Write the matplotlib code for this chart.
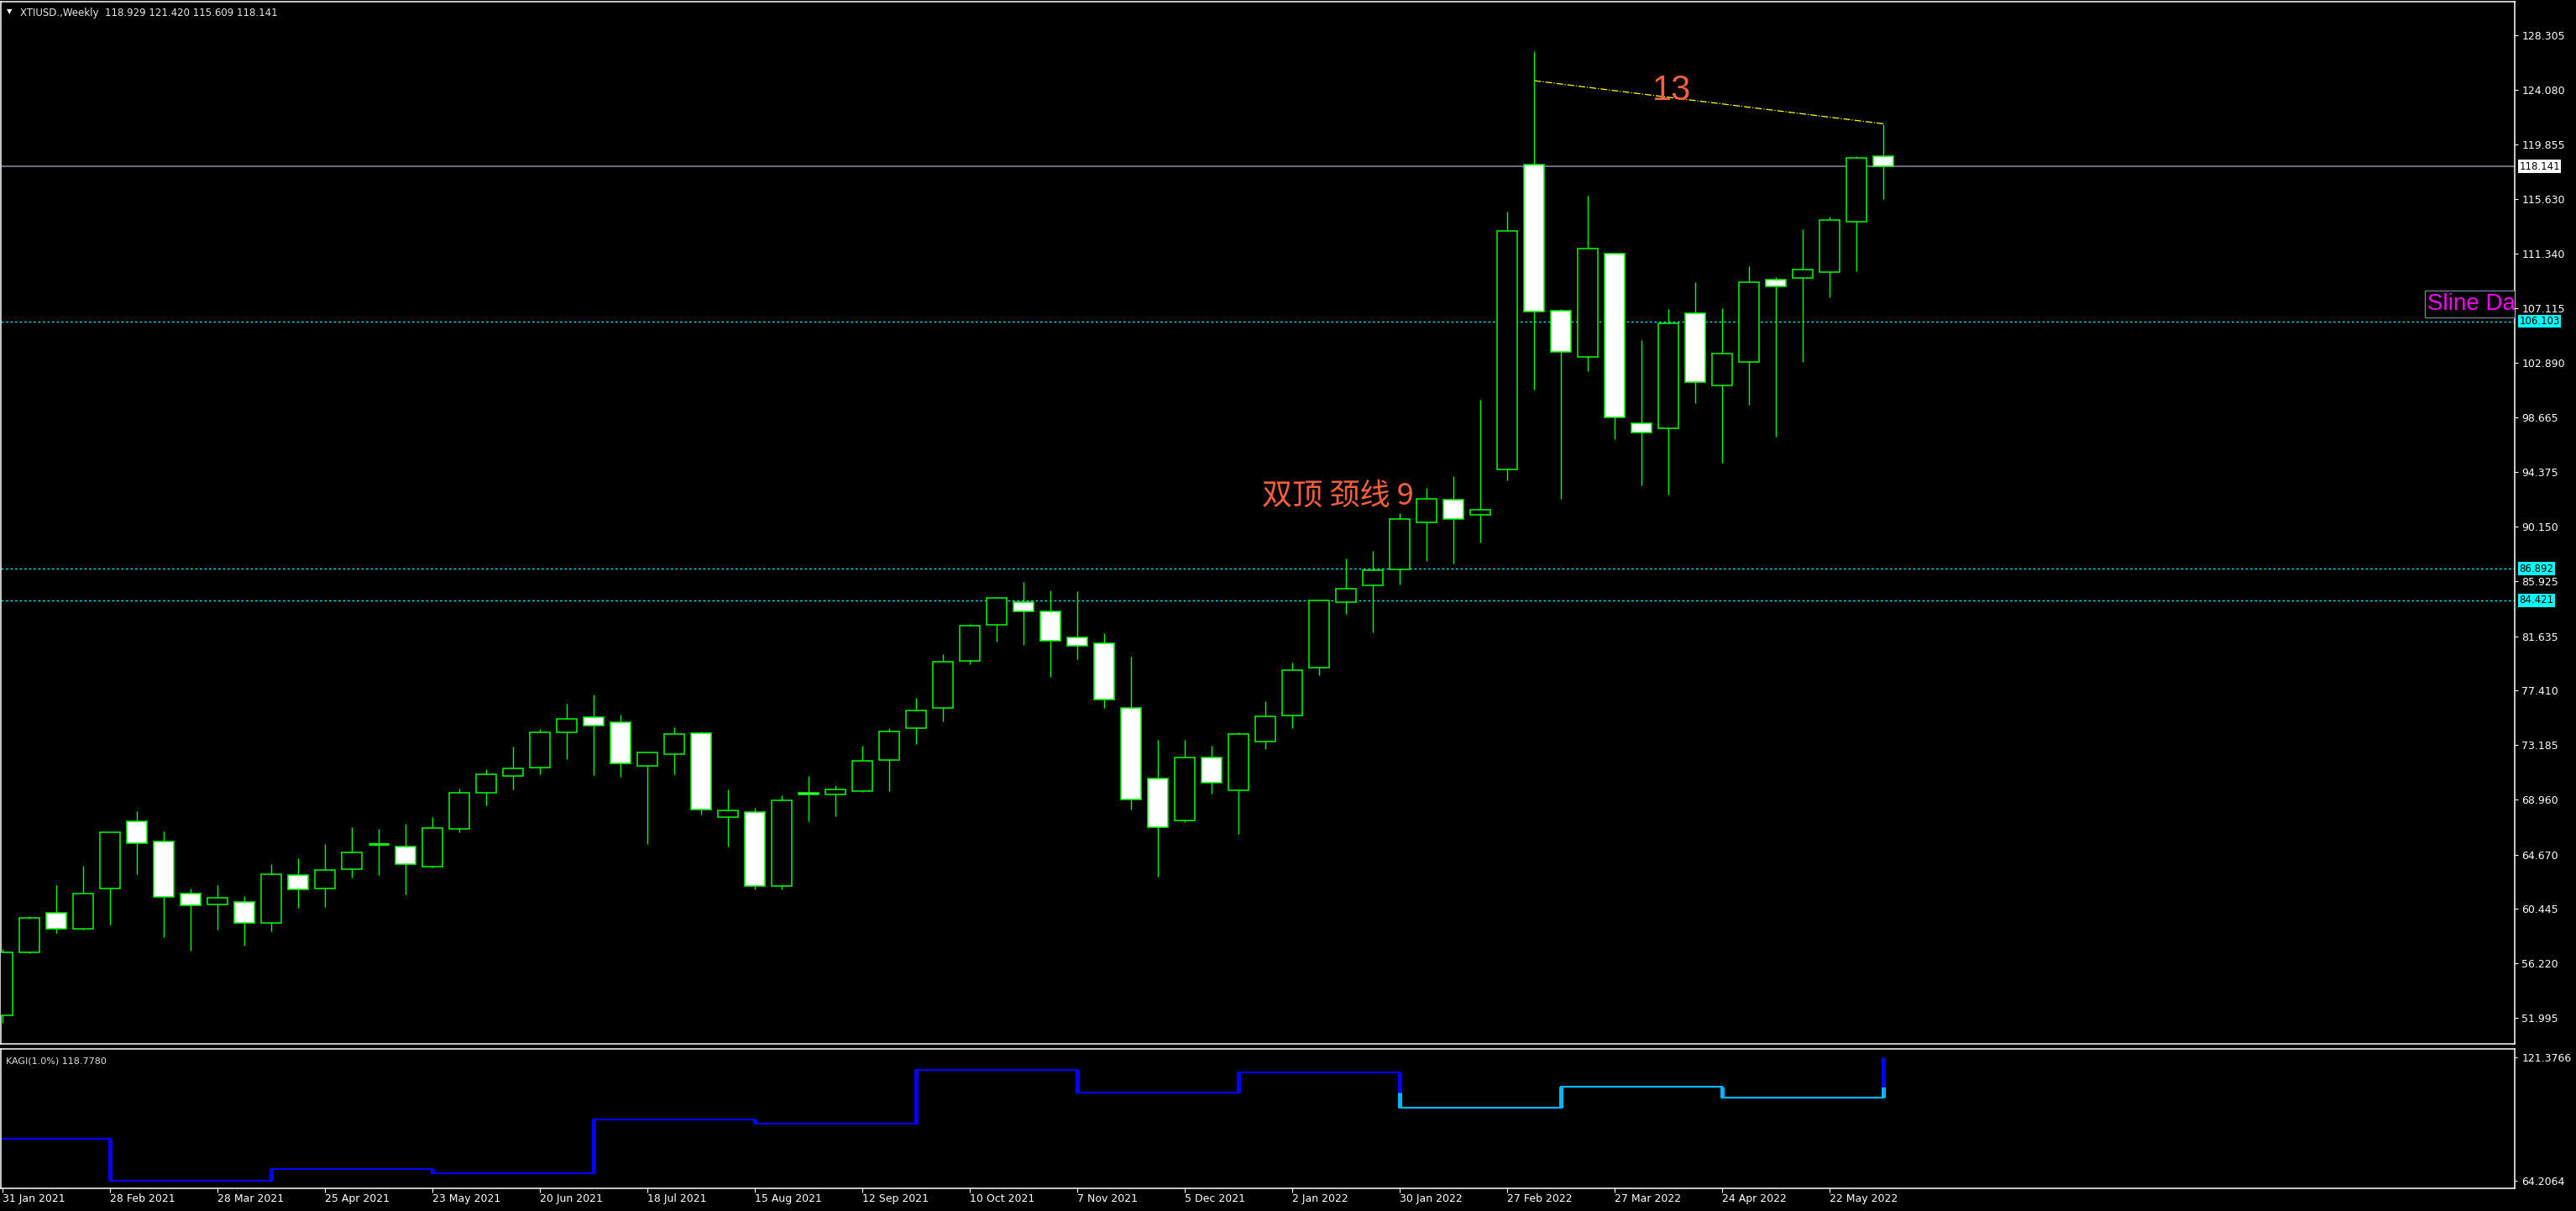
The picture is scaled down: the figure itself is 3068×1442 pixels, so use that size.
import matplotlib
matplotlib.use("Agg")
import matplotlib.pyplot as plt
import matplotlib.transforms as mtransforms
from matplotlib import font_manager
from matplotlib.patches import Rectangle

# weekly XTIUSD candles, index 0 = week of 31 Jan 2021
opens = [52.16, 57.05, 60.12, 58.88, 62.01, 67.23, 65.67, 61.62, 60.82, 60.97,
         59.38, 63.06, 62.06, 63.56, 65.52, 65.28, 63.75, 66.69, 69.50, 70.76,
         71.45, 74.15, 75.32, 74.93, 71.58, 72.50, 74.08, 67.56, 68.01, 62.25,
         69.51, 69.32, 69.62, 72.04, 74.52, 76.08, 79.74, 82.54, 84.32, 83.54,
         81.52, 81.06, 76.04, 70.56, 67.34, 72.19, 69.69, 73.49, 75.50, 79.20,
         84.31, 85.57, 86.86, 90.46, 92.28, 91.09, 94.62, 118.26, 106.96, 103.37,
         111.34, 98.16, 97.77, 106.75, 101.15, 102.98, 109.36, 109.48, 109.96, 113.82,
         118.929]
highs = [57.34, 59.88, 62.30, 63.80, 66.42, 68.04, 66.47, 62.04, 62.30, 61.45,
         63.93, 64.38, 65.49, 66.80, 66.67, 67.06, 67.58, 69.80, 71.30, 73.06,
         74.43, 76.39, 77.11, 75.54, 72.62, 74.56, 74.24, 69.73, 68.30, 69.28,
         70.78, 70.06, 73.13, 74.47, 76.84, 80.24, 82.57, 84.67, 85.85, 85.20,
         85.13, 81.87, 80.04, 73.58, 73.58, 73.12, 74.17, 76.60, 79.60, 84.50,
         87.67, 88.27, 91.21, 93.15, 94.08, 100.04, 114.63, 127.10, 107.06, 115.86,
         111.43, 104.66, 107.05, 109.15, 107.11, 110.38, 109.54, 113.26, 114.24, 118.95,
         121.420]
lows = [51.62, 57.00, 58.60, 58.85, 59.23, 63.17, 58.27, 57.23, 58.86, 57.62,
        58.73, 60.53, 60.60, 62.88, 63.08, 61.58, 63.69, 66.41, 68.50, 69.73,
        70.93, 72.11, 70.87, 70.74, 65.49, 70.93, 67.78, 65.32, 61.97, 62.00,
        67.27, 67.67, 69.56, 69.62, 73.27, 75.02, 79.48, 81.22, 80.98, 78.48,
        79.85, 76.08, 68.19, 62.95, 67.21, 69.41, 66.29, 72.90, 74.50, 78.60,
        83.36, 81.92, 85.66, 87.46, 87.28, 88.90, 93.72, 100.79, 92.30, 102.26,
        96.93, 93.39, 92.67, 99.77, 95.10, 99.60, 97.17, 102.98, 107.95, 110.02,
        115.609]
closes = [57.05, 59.73, 58.92, 61.62, 66.39, 65.54, 61.36, 60.75, 61.30, 59.38,
          63.12, 61.99, 63.45, 64.82, 65.52, 63.95, 66.71, 69.45, 70.89, 71.34,
          74.15, 75.20, 74.67, 71.74, 72.58, 74.02, 68.15, 68.08, 62.25, 68.86,
          69.32, 69.71, 71.99, 74.21, 75.84, 79.63, 82.43, 84.59, 83.59, 81.30,
          80.87, 76.74, 68.97, 66.82, 72.19, 70.27, 74.02, 75.39, 79.00, 84.40,
          85.36, 86.74, 90.73, 92.34, 90.72, 91.45, 113.14, 106.84, 103.70, 111.79,
          98.67, 97.44, 105.95, 101.39, 103.58, 109.18, 108.82, 110.11, 114.00, 118.83,
          118.141]

tick_idx = [0, 4, 8, 12, 16, 20, 24, 28, 32, 36, 40, 44, 48, 52, 56, 60, 64, 68]
tick_labels = ["31 Jan 2021", "28 Feb 2021", "28 Mar 2021", "25 Apr 2021", "23 May 2021",
               "20 Jun 2021", "18 Jul 2021", "15 Aug 2021", "12 Sep 2021", "10 Oct 2021",
               "7 Nov 2021", "5 Dec 2021", "2 Jan 2022", "30 Jan 2022", "27 Feb 2022",
               "27 Mar 2022", "24 Apr 2022", "22 May 2022"]
price_ticks = [128.305, 124.080, 119.855, 115.630, 111.340, 107.115, 102.890, 98.665,
               94.375, 90.150, 85.925, 81.635, 77.410, 73.185, 68.960, 64.670, 60.445,
               56.220, 51.995]

last_price = 118.141
level_lines = [106.103, 86.892, 84.421]
trend_x = [57, 70]
trend_y = [124.8, 121.45]

# kagi indicator: turning weeks and levels (one more level than turns)
kagi_turn = [4, 10, 16, 22, 28, 34, 40, 46, 52, 58, 64, 70]
kagi_level = [83.65, 64.21, 69.6, 67.8, 92.7, 90.8, 115.66, 105.2, 114.5, 98.2,
              107.9, 102.8, 121.38]
kagi_ticks = [64.2064, 121.3766]

W, H = 3068, 1442
fig = plt.figure(figsize=(W / 100, H / 100), dpi=100, facecolor="black")

def px_rect(x0, y0, x1, y1):
    return [x0 / W, 1 - y1 / H, (x1 - x0) / W, (y1 - y0) / H]

ax = fig.add_axes(px_rect(1, 2, 2995, 1243), facecolor="black")
ax2 = fig.add_axes(px_rect(1, 1249, 2995, 1415), facecolor="black")

green = "#00FF00"
x = list(range(len(opens)))

ax.vlines(x, lows, highs, color=green, lw=1.0, zorder=2)
for i in x:
    o, c = opens[i], closes[i]
    fill = "black" if c > o else "white"
    if c == o:
        ax.hlines(o, i - 0.375, i + 0.375, color=green, lw=2.2, zorder=3)
    else:
        ax.bar(i, abs(c - o), bottom=min(o, c), width=0.75, color=fill,
               edgecolor=green, lw=1.1, zorder=3)

ax.axhline(last_price, color="#8A8F99", lw=1.1, zorder=1)
for v in level_lines:
    ax.axhline(v, color="#00FFFF", lw=0.9, ls=(0, (2.2, 2.2)), zorder=1)

ax.plot(trend_x, trend_y, color="#FFFF00", lw=0.9, ls="-.", zorder=4)

ax.set_xlim(-0.075, 93.49)
ax.set_ylim(49.97, 130.94)
ax.set_xticks([])
ax.yaxis.tick_right()
ax.set_yticks(price_ticks)
ax.set_yticklabels([f"{v:.3f}" for v in price_ticks])
ax.tick_params(axis="y", colors="white", length=3, width=0.8, pad=3, labelsize=9)
for s in ax.spines.values():
    s.set_color("white")
    s.set_linewidth(1.1)

# price labels on the right axis
blend = mtransforms.blended_transform_factory(ax.transAxes, ax.transData)
ax.text(1.0018, last_price, f"{last_price:.3f}", transform=blend, ha="left", va="center",
        fontsize=8.5, color="black", clip_on=False, zorder=6,
        bbox=dict(boxstyle="square,pad=0.1", fc="white", ec="none"))
for v in level_lines:
    ax.text(1.0018, v, f"{v:.3f}", transform=blend, ha="left", va="center",
            fontsize=8.5, color="black", clip_on=False, zorder=6,
            bbox=dict(boxstyle="square,pad=0.1", fc="#00FFFF", ec="none"))

# annotations
ax.text(62.1, 124.0, "13", color="#F4603F", fontsize=30, ha="center", va="center",
        family="Liberation Sans", zorder=5)
ax.text(46.85, 92.5, "双顶 颈线 9", color="#F4603F", fontsize=26, ha="left", va="center",
        family=["Noto Sans CJK SC", "DejaVu Sans"], zorder=5)
ax.add_patch(Rectangle((90.15, 106.41), 5.0, 2.09, fc="black", ec="#708090", lw=1,
                       clip_on=True, zorder=5))
ax.text(90.25, 107.45, "Sline Da", color="#FF00FF", fontsize=20, ha="left", va="center",
        family="Liberation Sans", clip_on=True, zorder=6)

# kagi panel
blue, light = "#0000FF", "#00B4FF"
yang = True
shoulders, waists = [], []
x0 = -0.5
for k, t in enumerate(kagi_turn):
    a, b = kagi_level[k], kagi_level[k + 1]
    col = blue if yang else light
    ax2.plot([x0, t], [a, a], color=col, lw=1.6, solid_capstyle="projecting")
    if b < a:
        shoulders.append(a)
        ref = waists[-1] if waists else None
        if yang and ref is not None and b < ref:
            ax2.plot([t, t], [a, ref], color=blue, lw=3.6, solid_capstyle="butt")
            ax2.plot([t, t], [ref, b], color=light, lw=3.6, solid_capstyle="butt")
            yang = False
        else:
            ax2.plot([t, t], [a, b], color=col, lw=3.6, solid_capstyle="butt")
    else:
        waists.append(a)
        ref = shoulders[-1] if shoulders else None
        if not yang and ref is not None and b > ref:
            ax2.plot([t, t], [a, ref], color=light, lw=3.6, solid_capstyle="butt")
            ax2.plot([t, t], [ref, b], color=blue, lw=3.6, solid_capstyle="butt")
            yang = True
        else:
            ax2.plot([t, t], [a, b], color=col, lw=3.6, solid_capstyle="butt")
    x0 = t

ax2.set_xlim(-0.075, 93.49)
ax2.set_ylim(60.71, 125.27)
ax2.yaxis.tick_right()
ax2.set_yticks(kagi_ticks)
ax2.set_yticklabels([f"{v:.4f}" for v in kagi_ticks])
ax2.tick_params(axis="y", colors="white", length=2, width=0.8, pad=4, labelsize=9)

names = {f.name for f in font_manager.fontManager.ttflist}
if "Liberation Sans Narrow" in names:
    xfont, xsize = "Liberation Sans Narrow", 12
else:
    xfont, xsize = "DejaVu Sans", 9
ax2.set_xticks(tick_idx)
ax2.set_xticklabels(tick_labels, ha="left", family=xfont, fontsize=xsize)
ax2.tick_params(axis="x", colors="white", length=3.5, width=0.8, pad=1)
for s in ax2.spines.values():
    s.set_color("white")
    s.set_linewidth(1.1)

fig.text(8 / W, 1 - 14 / H, "▼", fontsize=6, color="white", va="center")
fig.text(24 / W, 1 - 15 / H, "XTIUSD.,Weekly  118.929 121.420 115.609 118.141",
         fontsize=8.5, color="#E8E8E8", va="center")
fig.text(7 / W, 1 - 1263 / H, "KAGI(1.0%) 118.7780", fontsize=8, color="#E0E0E0",
         va="center")

fig.savefig("out.png", dpi=100, facecolor="black")
